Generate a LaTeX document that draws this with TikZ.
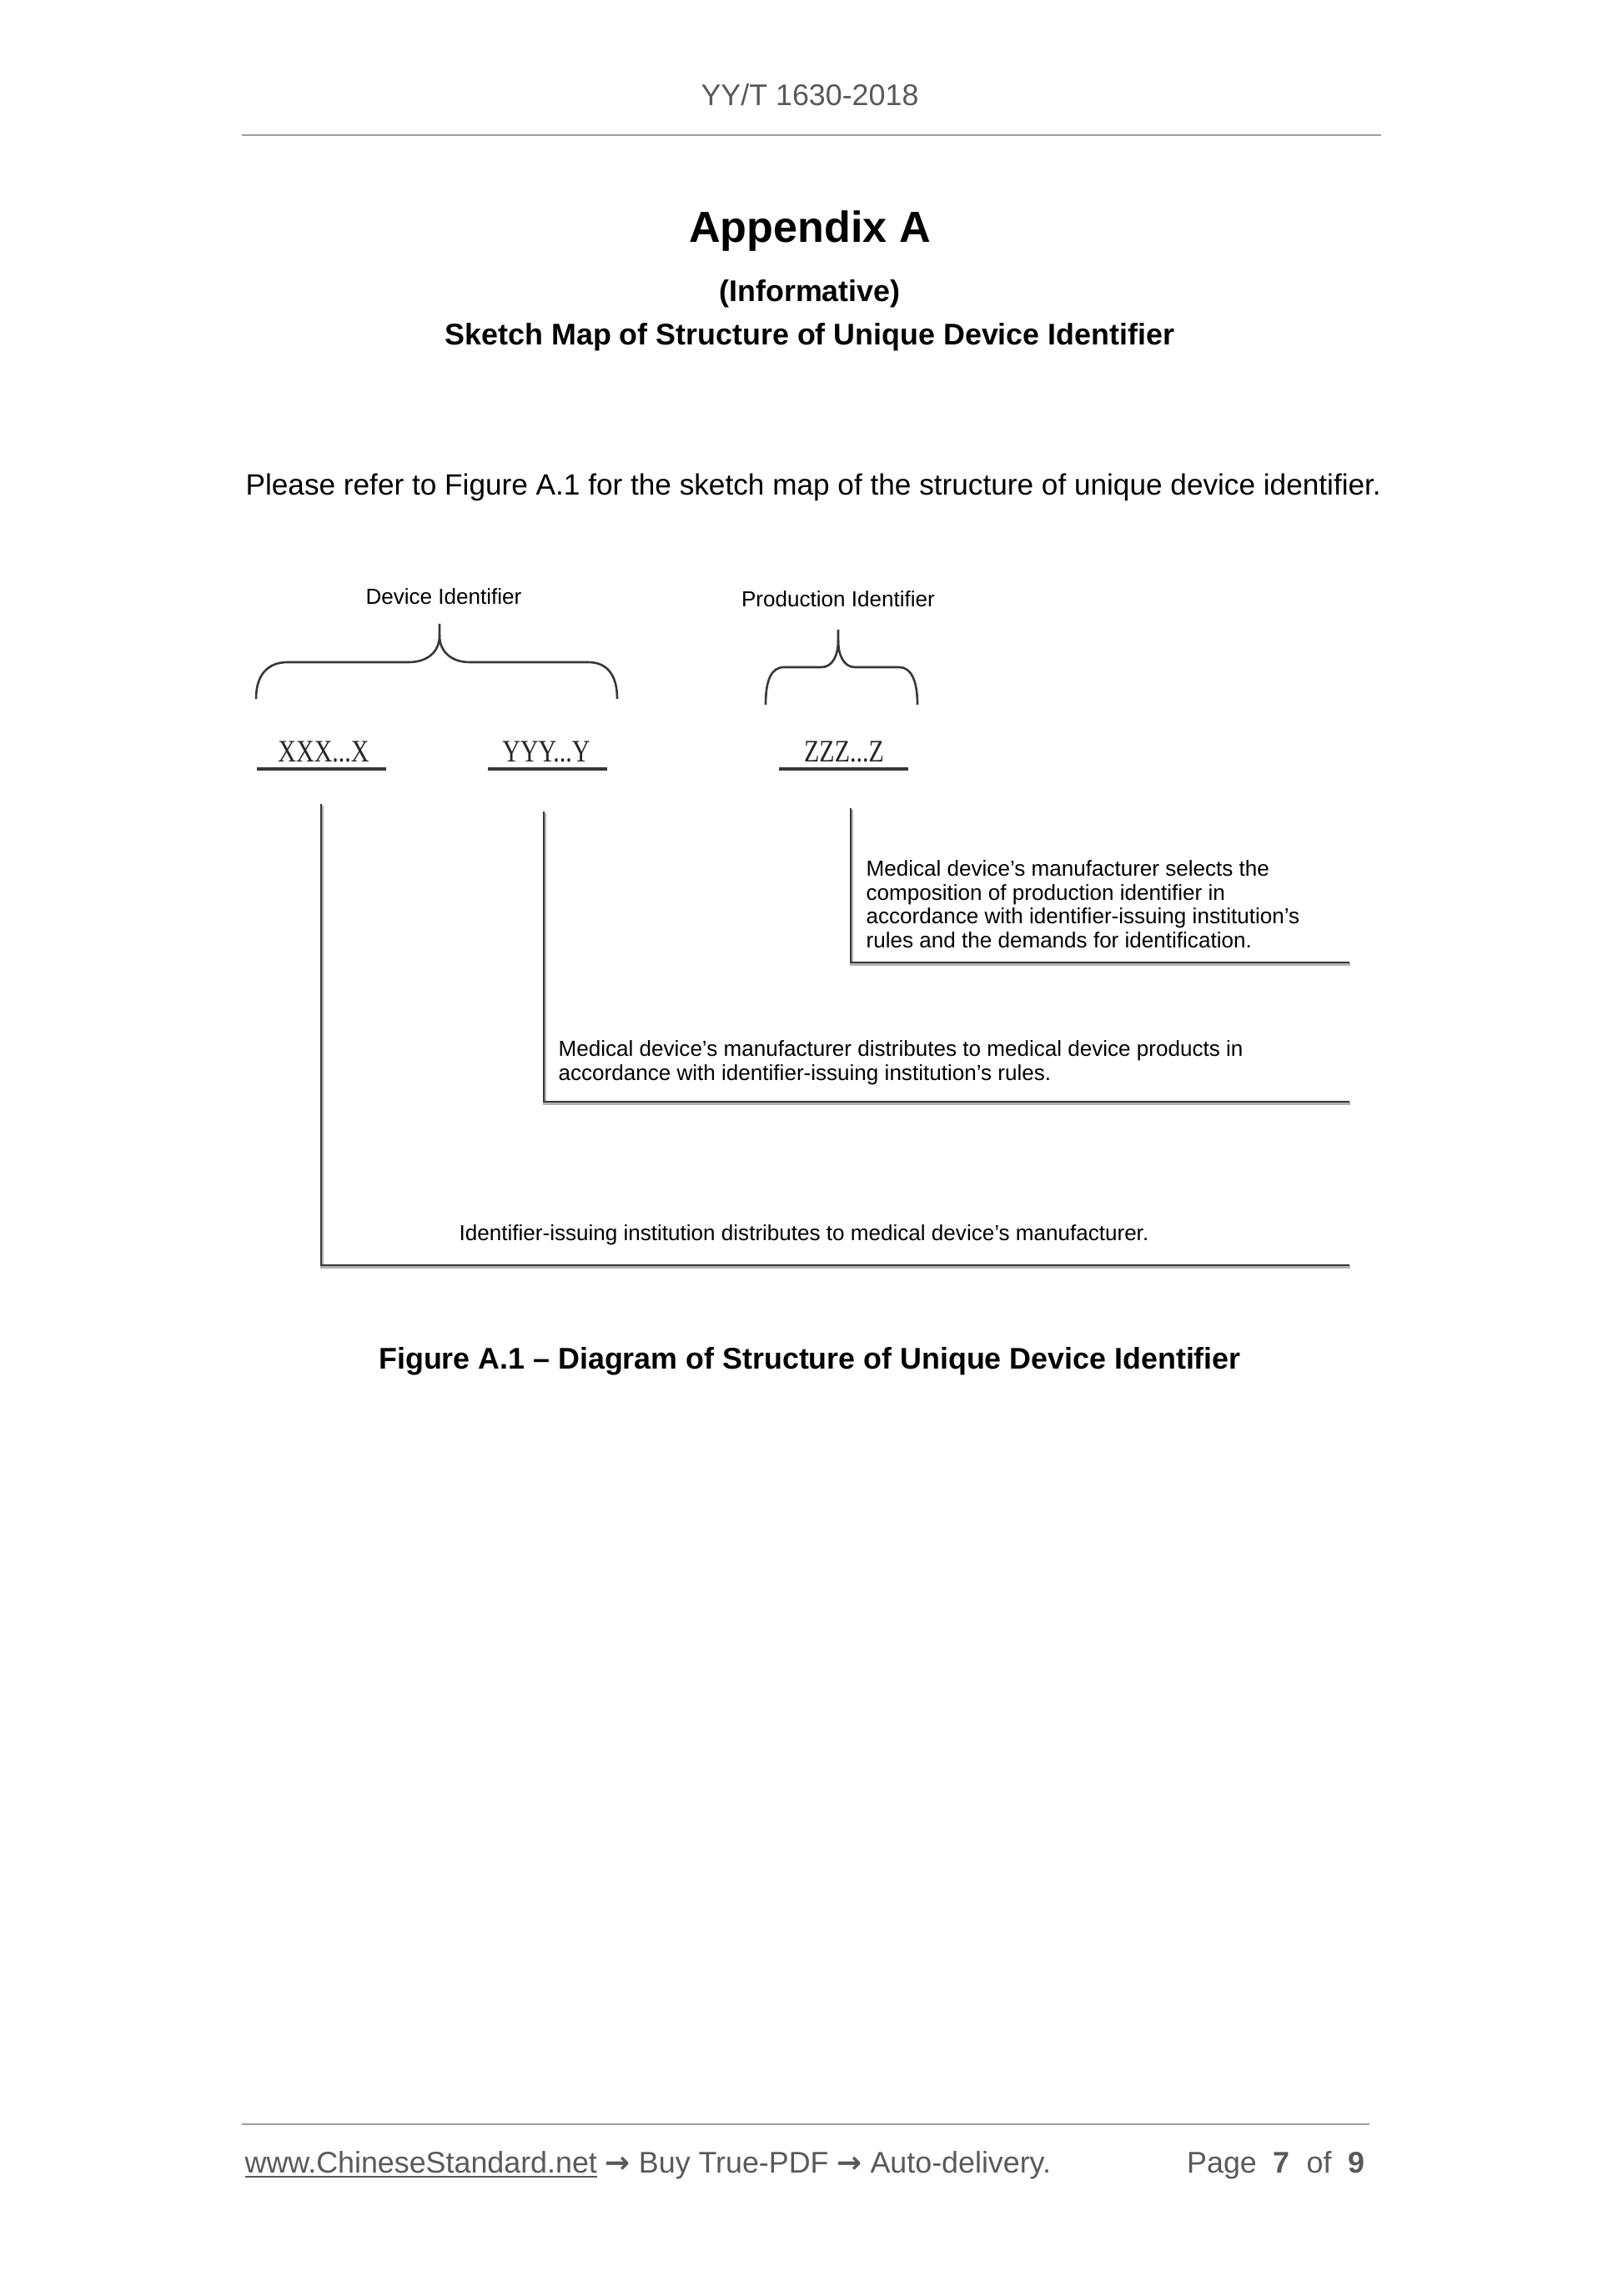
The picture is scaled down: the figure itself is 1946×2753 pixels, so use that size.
\documentclass[tikz,border=0pt]{standalone}
\usepackage{fontspec}
\setmainfont{Liberation Sans}
\newfontfamily\codefont{Liberation Serif}
\newfontfamily\arrowfont{DejaVu Sans}
\usepackage{graphicx}
\definecolor{pagegray}{gray}{0.35}
\definecolor{rulegray}{gray}{0.62}
\definecolor{inkgray}{gray}{0.22}
\tikzset{
  leader/.style={draw=inkgray, line width=0.9pt,
    preaction={draw=black!30, line width=1.1pt, transform canvas={shift={(0.35pt,-0.6pt)}}}},
  bracket/.style={draw=inkgray, line width=0.8pt},
  uline/.style={draw=inkgray, line width=1pt},
  codetext/.style={anchor=base, inner sep=0pt, text=black!85,
    font=\codefont\fontsize{11.5}{12}\selectfont},
  idtext/.style={font=\fontsize{8}{9}\selectfont},
  note/.style={anchor=north west, inner sep=0pt, align=left,
    font=\fontsize{8}{8.8}\selectfont},
  heading/.style={font=\bfseries\fontsize{11}{13}\selectfont}
}
\newcommand{\footarrow}{{\arrowfont\bfseries →}}
\begin{document}
\begin{tikzpicture}[x=0.010791cm, y=-0.010791cm]
\useasboundingbox (0,0) rectangle (1946,2753);
% page head
\node[text=pagegray, font=\fontsize{11}{13}\selectfont] (head) at (971,114) {YY/T 1630-2018};
\draw[rulegray, line width=0.6pt] (290,162) -- (1656,162);
\node[font=\bfseries\fontsize{16}{19}\selectfont] (appx) at (971,277) {Appendix A};
\node[heading] (inform) at (971,352) {(Informative)};
\node[heading] (title) at (971,404) {Sketch Map of Structure of Unique Device Identifier};
\node[anchor=west, inner sep=0pt, font=\fontsize{10.8}{12}\selectfont] (intro) at (294,584)
  {Please refer to Figure A.1 for the sketch map of the structure of unique device identifier.};

% identifier labels and braces
\node[idtext] (devid) at (532,715) {Device Identifier};
\node[idtext] (prodid) at (1005,718) {Production Identifier};
\draw[bracket] (307,838) .. controls (307,808) and (322,794) .. (345,794) -- (490,794)
  .. controls (512,794) and (527,782) .. (527,762) -- (527,748);
\draw[bracket] (527,762) .. controls (527,782) and (542,794) .. (563,794) -- (705,794)
  .. controls (727,794) and (740,808) .. (740,838);
\draw[bracket] (918,845) .. controls (918,815) and (925,800) .. (940,800) -- (985,800)
  .. controls (998,800) and (1005,786) .. (1005,768) -- (1005,755);
\draw[bracket] (1005,768) .. controls (1005,786) and (1012,800) .. (1025,800) -- (1078,800)
  .. controls (1092,800) and (1100,815) .. (1100,845);

% code segments
\node[codetext] (xcode) at (388,913) {\scalebox{0.8}[1]{XXX...X}};
\node[codetext] (ycode) at (655,913) {\scalebox{0.8}[1]{YYY...Y}};
\node[codetext] (zcode) at (1012,913) {\scalebox{0.8}[1]{ZZZ...Z}};
\draw[uline] (308,922) -- (463,922);
\draw[uline] (585,922) -- (728,922);
\draw[uline] (934,922) -- (1089,922);

% leaders
\coordinate (xtop) at (385,964);
\coordinate (ytop) at (652,973);
\coordinate (ztop) at (1020,969);
\coordinate (xend) at (1618,1517);
\coordinate (yend) at (1618,1321);
\coordinate (zend) at (1618,1154);
\draw[leader] (ztop) |- (zend);
\draw[leader] (ytop) |- (yend);
\draw[leader] (xtop) |- (xend);

\node[note] (znote) at (1038,1031) {Medical device’s manufacturer selects the\\
  composition of production identifier in\\
  accordance with identifier-issuing institution’s\\
  rules and the demands for identification.};
\node[note] (ynote) at (669,1247) {Medical device’s manufacturer distributes to medical device products in\\
  accordance with identifier-issuing institution’s rules.};
\node[note] (xnote) at (550,1468) {Identifier-issuing institution distributes to medical device’s manufacturer.};

\node[heading] (caption) at (971,1632) {Figure A.1 – Diagram of Structure of Unique Device Identifier};

% page foot
\draw[rulegray, line width=0.6pt] (290,2547) -- (1642,2547);
\node[anchor=base west, inner sep=0pt, text=pagegray, font=\fontsize{11}{13}\selectfont] (site) at (293,2605)
  {\underline{www.ChineseStandard.net} \footarrow{} Buy True-PDF \footarrow{} Auto-delivery.};
\node[anchor=base east, inner sep=0pt, text=pagegray, font=\fontsize{11}{13}\selectfont] (page) at (1637,2605)
  {Page\ \ \textbf{7}\ \ of\ \ \textbf{9}};
\end{tikzpicture}
\end{document}
